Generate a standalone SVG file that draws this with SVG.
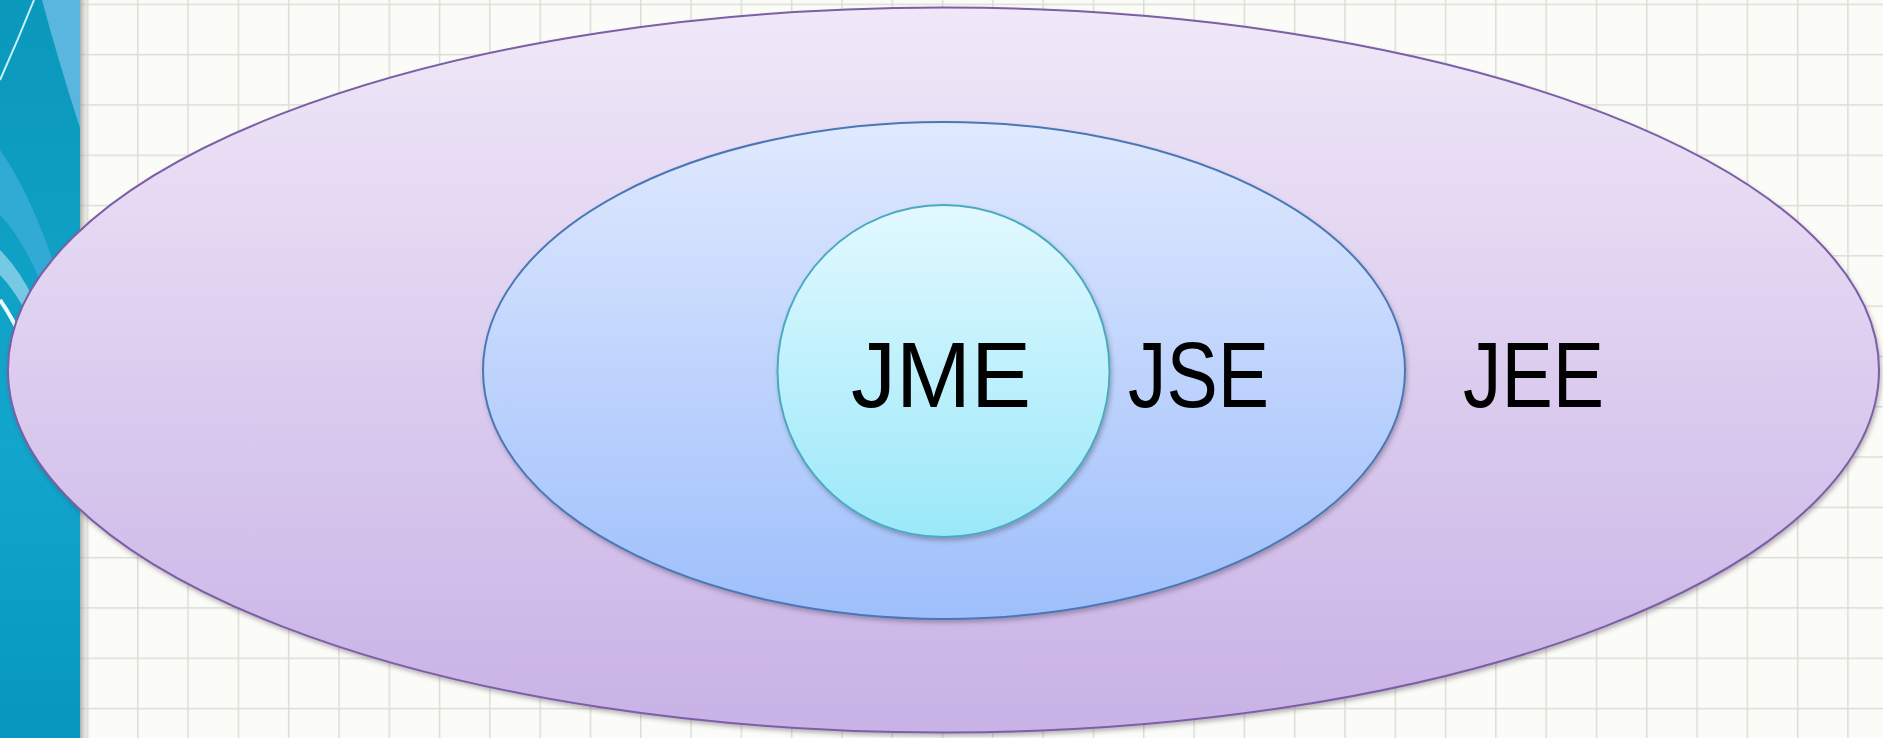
<svg xmlns="http://www.w3.org/2000/svg" width="1883" height="738" viewBox="0 0 1883 738">
  <defs>
    <style>
      .lbl { font-family: "Liberation Sans", Arial, sans-serif; font-size: 93px; fill: #000000; text-anchor: middle; }
    </style>
    <pattern id="gridPat" x="36.4" y="3.6" width="50.3" height="50.3" patternUnits="userSpaceOnUse">
      <rect width="50.3" height="50.3" fill="#fbfcf7"/>
      <line x1="0.75" y1="0" x2="0.75" y2="50.3" stroke="#dcddd6" stroke-width="1.5"/>
      <line x1="0" y1="0.75" x2="50.3" y2="0.75" stroke="#dcddd6" stroke-width="1.5"/>
    </pattern>
    <linearGradient id="bandGrad" x1="0" y1="0" x2="0" y2="1">
      <stop offset="0" stop-color="#0a98bb"/>
      <stop offset="0.6" stop-color="#13a6cc"/>
      <stop offset="1" stop-color="#0797bc"/>
    </linearGradient>
    <linearGradient id="bandShadow" x1="0" y1="0" x2="1" y2="0">
      <stop offset="0" stop-color="#8f8f8b" stop-opacity="0.7"/>
      <stop offset="1" stop-color="#fbfcf7" stop-opacity="0"/>
    </linearGradient>
    <linearGradient id="gOuter" x1="0" y1="0" x2="0" y2="1">
      <stop offset="0" stop-color="#f0e8f8"/>
      <stop offset="1" stop-color="#c8b2e6"/>
    </linearGradient>
    <linearGradient id="gMid" x1="0" y1="0" x2="0" y2="1">
      <stop offset="0" stop-color="#e0e9fe"/>
      <stop offset="1" stop-color="#9ebffb"/>
    </linearGradient>
    <linearGradient id="gInner" x1="0" y1="0" x2="0" y2="1">
      <stop offset="0" stop-color="#e2f9ff"/>
      <stop offset="1" stop-color="#9be8f9"/>
    </linearGradient>
    <filter id="shadow" x="-5%" y="-5%" width="110%" height="115%">
      <feDropShadow dx="1.5" dy="3" stdDeviation="2" flood-color="#40304a" flood-opacity="0.35"/>
    </filter>
  </defs>

  <!-- background -->
  <rect x="0" y="0" width="1883" height="738" fill="url(#gridPat)"/>

  <!-- left decorative band -->
  <g id="band">
    <rect x="80" y="0" width="12" height="738" fill="url(#bandShadow)"/>
    <rect x="0" y="0" width="80" height="738" fill="url(#bandGrad)"/>
    <path d="M42 0 L80 0 L80 128 Q58 60 42 0 Z" fill="#5ab6df"/>
    <path d="M0 150 Q35 200 62 290 L48 300 Q25 240 0 215 Z" fill="#3aaed8" opacity="0.8"/>
    <path d="M0 250 Q20 270 34 300 L30 320 Q15 290 0 275 Z" fill="#8fd3ea" opacity="0.8"/>
    <path d="M34 0 Q18 40 0 80" fill="none" stroke="#c8f2fb" stroke-width="2"/>
    <path d="M0 300 Q14 320 26 348" fill="none" stroke="#e8fbff" stroke-width="4"/>
  </g>

  <g id="jee">
    <ellipse cx="943.5" cy="370" rx="935.5" ry="362.5" fill="url(#gOuter)" stroke="#7b5ea7" stroke-width="2" filter="url(#shadow)"/>
  </g>
  <g id="jse">
    <ellipse cx="944" cy="370.5" rx="461" ry="248.5" fill="url(#gMid)" stroke="#4a78b6" stroke-width="2" filter="url(#shadow)"/>
  </g>
  <g id="jme">
    <circle cx="943.5" cy="371" r="166" fill="url(#gInner)" stroke="#4aaac0" stroke-width="2" filter="url(#shadow)"/>
  </g>

  <g id="labels">
    <text class="lbl" x="941" y="407" textLength="180" lengthAdjust="spacingAndGlyphs">JME</text>
    <text class="lbl" x="1198.5" y="407" textLength="141" lengthAdjust="spacingAndGlyphs">JSE</text>
    <text class="lbl" x="1533.5" y="407" textLength="141" lengthAdjust="spacingAndGlyphs">JEE</text>
  </g>
  <g id="connectors"/>
</svg>
